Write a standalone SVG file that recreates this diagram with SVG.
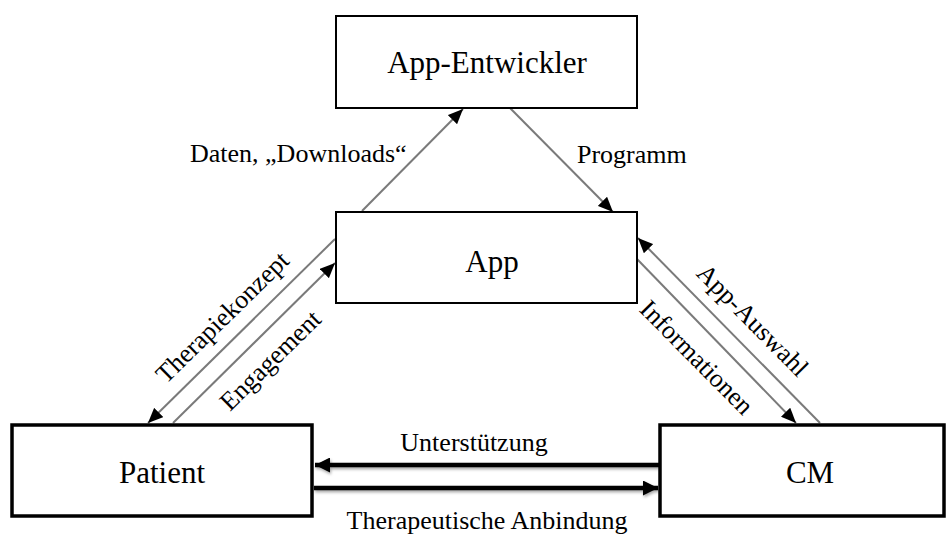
<svg xmlns="http://www.w3.org/2000/svg" width="948" height="534" viewBox="0 0 948 534">
<style>
.box{fill:#fff;stroke:#000;stroke-width:2}
.bbox{fill:#fff;stroke:#000;stroke-width:3.5}
.lbl{font-family:'Liberation Serif',serif;font-size:31px;fill:#000;text-anchor:middle}
.elbl{font-family:'Liberation Serif',serif;font-size:26px;fill:#000}
.thin{stroke:#7a7a7a;stroke-width:2;fill:none}
.thick{stroke:#000;stroke-width:4.5;fill:none}
</style>
<defs>
<marker id="ah" markerUnits="userSpaceOnUse" markerWidth="16" markerHeight="13" refX="15" refY="6.5" orient="auto">
<path d="M0,0 L15,6.5 L0,13 z" fill="#000"/>
</marker>
<marker id="ahb" markerUnits="userSpaceOnUse" markerWidth="16" markerHeight="15" refX="15" refY="7.5" orient="auto">
<path d="M0,0 L15,7.5 L0,15 z" fill="#000"/>
</marker>
<filter id="sh" filterUnits="userSpaceOnUse" x="290" y="440" width="390" height="70">
<feDropShadow dx="1" dy="2" stdDeviation="1.5" flood-color="#000" flood-opacity="0.35"/>
</filter>
</defs>
<rect width="948" height="534" fill="#fff"/>
<g id="connectors">
<line class="thin" x1="362" y1="211" x2="463" y2="109" marker-end="url(#ah)"/>
<line class="thin" x1="510" y1="108" x2="613" y2="212" marker-end="url(#ah)"/>
<line class="thin" x1="335" y1="239" x2="148" y2="423" marker-end="url(#ah)"/>
<line class="thin" x1="173" y1="423" x2="335" y2="263" marker-end="url(#ah)"/>
<line class="thin" x1="820" y1="423" x2="638" y2="238" marker-end="url(#ah)"/>
<line class="thin" x1="637" y1="259" x2="796" y2="423" marker-end="url(#ah)"/>
<g filter="url(#sh)">
<line class="thick" x1="659" y1="465" x2="315" y2="465" marker-end="url(#ahb)"/>
<line class="thick" x1="314" y1="488" x2="658" y2="488" marker-end="url(#ahb)"/>
</g>
<text class="elbl" x="190" y="162">Daten, „Downloads“</text>
<text class="elbl" x="577" y="163">Programm</text>
<text class="elbl" text-anchor="middle" transform="translate(222,317) rotate(-44.4)" y="9">Therapiekonzept</text>
<text class="elbl" text-anchor="middle" transform="translate(270,360) rotate(-44.4)" y="9">Engagement</text>
<text class="elbl" text-anchor="middle" transform="translate(753,320) rotate(45.3)" y="9">App-Auswahl</text>
<text class="elbl" text-anchor="middle" transform="translate(697,357) rotate(45.3)" y="9">Informationen</text>
<text class="elbl" text-anchor="middle" x="474" y="451">Unterstützung</text>
<text class="elbl" text-anchor="middle" x="487" y="529">Therapeutische Anbindung</text>
</g>
<g id="app-entwickler">
<rect class="box" x="336" y="16" width="301" height="92"/>
<text class="lbl" x="487" y="73">App-Entwickler</text>
</g>
<g id="app">
<rect class="box" x="336" y="212" width="301" height="91"/>
<text class="lbl" x="492" y="272">App</text>
</g>
<g id="patient">
<rect class="bbox" x="12" y="425" width="300" height="91"/>
<text class="lbl" x="162" y="483">Patient</text>
</g>
<g id="cm">
<rect class="bbox" x="660" y="425" width="284" height="91"/>
<text class="lbl" x="810" y="483">CM</text>
</g>
</svg>
